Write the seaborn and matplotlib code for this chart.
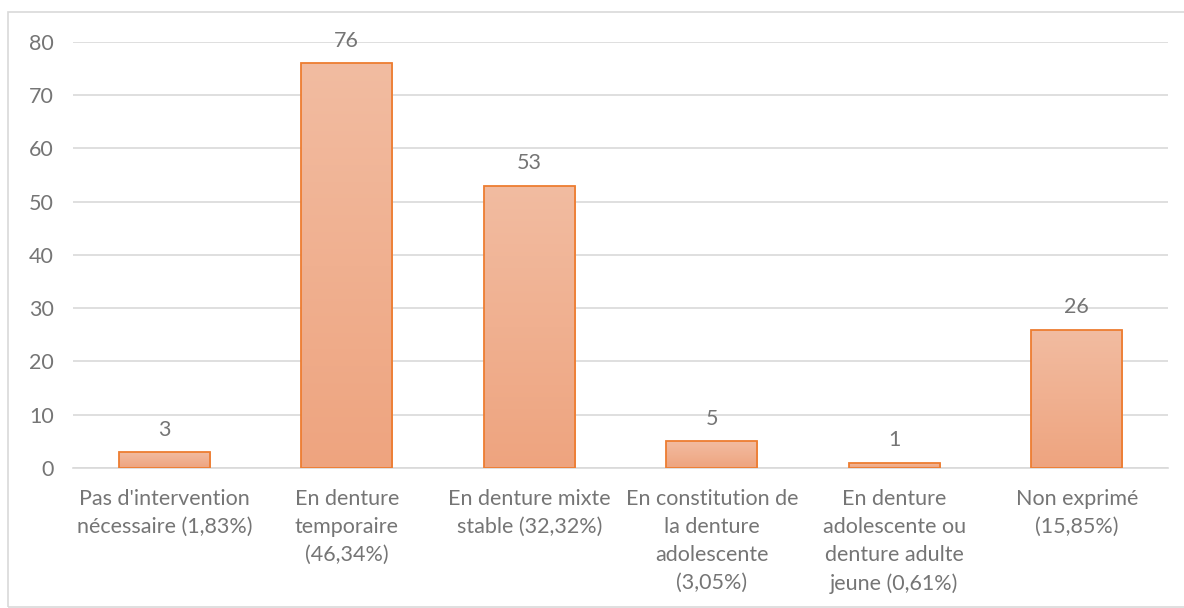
import numpy as np
import pandas as pd
import matplotlib
matplotlib.use("Agg")
import matplotlib.pyplot as plt
from matplotlib.patches import Rectangle
from matplotlib.colors import LinearSegmentedColormap
import seaborn as sns

# data
categories = ["Pas d'intervention\nnécessaire (1,83%)",
              "En denture\ntemporaire\n(46,34%)",
              "En denture mixte\nstable (32,32%)",
              "En constitution de\nla denture\nadolescente\n(3,05%)",
              "En denture\nadolescente ou\ndenture adulte\njeune (0,61%)",
              "Non exprimé\n(15,85%)"]
counts = [3, 76, 53, 5, 1, 26]

df = pd.DataFrame({'cat': categories, 'n': counts})

sns.set_theme(style="white")
plt.rcParams['font.family'] = ['Lato', 'DejaVu Sans']
txt = '#757575'
fs = 15.5

fig = plt.figure(figsize=(11.84, 6.08), dpi=100)
ax = fig.add_axes([0.0617, 0.2303, 0.9248, 0.7007])

sns.barplot(data=df, x='cat', y='n', ax=ax, width=0.5,
            color='#F0AC88', edgecolor='#ED7D31', linewidth=1.3, zorder=3)

# gradient fill inside each bar
cmap = LinearSegmentedColormap.from_list('g', ['#EEA47F', '#F2BCA1'])
grad = np.linspace(0, 1, 256).reshape(-1, 1)
for p in ax.patches:
    x0, y0 = p.get_x(), p.get_y()
    w, h = p.get_width(), p.get_height()
    im = ax.imshow(grad, cmap=cmap, aspect='auto', origin='lower',
                   extent=[x0, x0 + w, y0, y0 + h], zorder=3.5)
    im.set_clip_path(p)
    p.set_facecolor('none')
    p.set_zorder(4)

ax.set_xlim(-0.5, 5.5)
ax.set_ylim(0, 80)
ax.set_yticks(range(0, 81, 10))
ax.yaxis.grid(True, color='#D9D9D9', linewidth=1.2, zorder=0)
ax.set_axisbelow(True)
for s in ['top', 'right', 'left']:
    ax.spines[s].set_visible(False)
ax.spines['bottom'].set_color('#D9D9D9')
ax.spines['bottom'].set_linewidth(1.2)
ax.set_xlabel('')
ax.set_ylabel('')
ax.tick_params(axis='y', length=0, pad=14, labelsize=fs, labelcolor=txt)
ax.tick_params(axis='x', length=0, pad=15, labelsize=fs, labelcolor=txt)
for lab in ax.get_xticklabels():
    lab.set_linespacing(1.5)

for i, v in enumerate(counts):
    ax.annotate(str(v), (i, v), xytext=(0, 9), textcoords='offset points',
                ha='center', va='bottom', fontsize=fs, color=txt)

# chart border
fig.patches.append(Rectangle((8 / 1184, 0.002), 1.0, 1 - 12 / 608 - 0.002,
                             transform=fig.transFigure, fill=False,
                             edgecolor='#D9D9D9', linewidth=1.2))

fig.savefig('out.png', dpi=100)
